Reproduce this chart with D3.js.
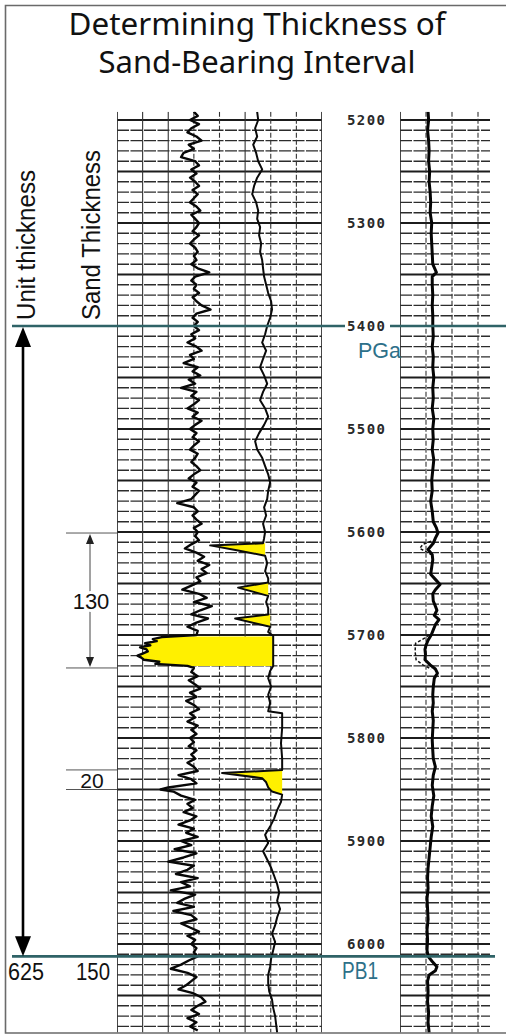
<!DOCTYPE html>
<html><head><meta charset="utf-8">
<script src="https://cdn.jsdelivr.net/npm/d3@7"></script>
<style>body{margin:0;background:#fff}svg{display:block}</style>
</head><body><svg id="c" width="506" height="1035"></svg>
<script>
// ---------- DATA ----------
const titleLines = ["Determining Thickness of", "Sand-Bearing Interval"];
const depthTicks = [5200, 5300, 5400, 5500, 5600, 5700, 5800, 5900, 6000];
const tops = [{name: "PGa", depth: 5400}, {name: "PB1", depth: 6012}];
const unitThickness = 625;
const sandTotal = 150;
const sandAnnotations = [{label: "130", top: 5601, base: 5732}, {label: "20", top: 5831, base: 5850}];

// left-track jagged curve (depth ft, value)
const grCurve = [
[5192,60],[5196,63],[5200,57],[5204,64],[5208,58],[5212,55],[5216,62],[5220,66],[5224,56],[5228,60],[5232,52],[5236,50],[5240,61],[5244,64],[5248,58],
[5252,62],[5256,57],[5260,61],[5264,64],[5268,59],[5272,63],[5276,60],[5280,57],[5284,62],[5288,65],[5292,58],[5296,61],[5300,64],
[5304,62],[5308,59],[5312,64],[5316,60],[5320,57],[5324,61],[5328,63],[5332,60],[5336,62],[5340,58],[5344,63],[5348,72],[5352,61],
[5356,58],[5360,62],[5364,60],[5368,64],[5372,59],[5376,62],[5380,66],[5384,73],[5388,62],[5392,59],[5396,63],[5400,60],
[5404,64],[5408,58],[5412,61],[5416,55],[5420,62],[5424,66],[5428,57],[5432,60],[5436,52],[5440,63],[5444,59],[5448,65],[5452,56],[5456,61],[5460,50],[5464,62],[5468,58],[5472,64],[5476,60],[5480,55],[5484,63],[5488,59],[5492,66],[5496,61],[5500,57],
[5504,62],[5508,59],[5512,64],[5516,60],[5520,57],[5524,63],[5528,61],[5532,58],[5536,62],[5540,65],[5544,60],[5548,56],[5552,62],[5556,59],[5560,64],[5564,61],[5568,58],[5572,47],[5576,60],[5580,63],[5584,59],[5588,62],[5592,66],[5596,60],[5600,63],
[5604,61],[5608,64],[5612,58],[5616,53],[5620,62],[5624,68],[5628,63],[5632,72],[5636,66],[5640,70],[5644,62],[5648,65],[5652,58],[5656,51],[5660,64],[5664,70],[5668,60],[5672,74],[5676,65],[5680,58],[5684,71],[5688,62],[5692,55],[5696,63],[5700,62],
[5702,35],[5704,28],[5706,31],[5708,22],[5710,26],[5712,18],[5714,23],[5716,24],[5718,20],[5720,16],[5722,19],[5724,21],[5726,33],[5728,30],[5730,55],[5732,60],
[5736,58],[5740,63],[5744,56],[5748,61],[5752,65],[5756,57],[5760,62],[5764,54],[5768,60],[5772,64],[5776,57],[5780,61],[5784,55],[5788,63],[5792,58],[5796,62],[5800,57],
[5804,60],[5808,56],[5812,62],[5816,58],[5820,61],[5824,55],[5828,60],[5832,63],[5836,48],[5840,58],[5844,62],[5848,40],[5850,34],[5852,44],[5856,50],[5860,61],[5864,55],[5868,59],[5872,52],[5876,62],[5880,57],[5884,48],[5888,60],[5892,54],[5896,63],[5900,50],
[5904,58],[5908,45],[5912,62],[5916,52],[5920,40],[5924,60],[5928,55],[5932,46],[5936,63],[5940,50],[5944,57],[5948,42],[5952,61],[5956,53],[5960,47],[5964,60],[5968,44],[5972,58],[5976,62],[5980,50],[5984,57],[5988,64],[5992,55],[5996,61],[6000,58],
[6004,62],[6008,60],[6012,63],[6016,56],[6020,50],[6024,42],[6028,55],[6032,62],[6036,58],[6040,54],[6044,48],[6048,60],[6052,66],[6056,69],[6060,63],[6064,58],[6068,64],[6072,55],[6076,62],[6080,57],[6084,63]
];

// left-track smoother curve (depth ft, value)
const resCurve = [
[5192,109.4],[5200,110.2],[5208,107.8],[5216,109.4],[5224,106.3],[5232,108.6],[5240,110.2],[5248,113.3],[5256,109.4],[5264,107],[5272,105.5],[5280,108.6],[5288,110.2],[5296,109.4],
[5304,111.7],[5312,110.9],[5320,112.5],[5328,111.7],[5336,113.3],[5344,114],[5352,114.8],[5360,116.4],[5368,118],[5376,120.3],[5384,121],[5392,119.5],[5400,117.2],
[5408,115.6],[5416,113.3],[5424,116.4],[5432,114],[5440,111.7],[5448,114.8],[5456,117.2],[5464,114],[5472,111.7],[5480,115.6],[5488,118],[5496,114.8],
[5504,110.9],[5512,107.8],[5520,109.4],[5528,113.3],[5536,115.6],[5544,118],[5552,119.5],[5560,118],[5568,117.2],[5576,114.8],[5584,116.4],[5592,114],[5600,115.6],
[5606,114.8],[5611,114],[5613,72.7],[5618,94.5],[5623,115.6],[5630,117.2],[5638,115.6],[5645,118],[5649,118],[5654,94.5],[5662,118],[5668,116.4],[5674,118],[5680,118],[5684,92.2],[5692,119.5],[5697,118],
[5701,121.9],[5730,121.9],[5735,119.5],[5742,118],[5750,120.3],[5758,118],[5766,119.5],[5774,118],[5776,128.9],[5790,128.9],[5805,128],[5820,128.9],[5831,128.9],
[5834,82],[5839,113.3],[5843,116.4],[5848,118],[5852,121],[5855,128.9],[5862,128],[5870,125],[5878,122.7],[5886,119.5],[5894,115.6],[5902,118],[5910,114],[5918,117.2],[5926,120.3],[5934,122.7],[5942,125],[5950,126.6],[5958,125],[5966,127.3],[5974,125],[5982,123.4],[5990,121],[5998,123.4],
[6006,121.9],[6014,120.3],[6022,119.5],[6030,118],[6038,118],[6046,118.8],[6054,121],[6062,121.9],[6070,123.4],[6078,124.2],[6086,125]
];

// right-track curve (depth ft, value)
const rightCurve = [
[5192,27],[5200,27.5],[5210,26.5],[5220,27.5],[5230,28],[5240,27.5],[5250,28.5],[5260,28],[5270,29],[5280,29.5],[5290,29],[5300,30.5],[5310,30],[5320,30.5],[5330,31],[5340,31.5],[5348,35],[5352,31],[5360,31],[5370,31.5],[5380,31],[5390,31.5],[5400,31.5],
[5410,32],[5420,31],[5430,32],[5440,31.5],[5450,32.5],[5460,31.5],[5470,32],[5480,31],[5490,32.5],[5500,31.5],[5510,32],[5520,31],[5530,32.5],[5540,31.5],[5550,30.5],[5560,31],[5570,29.5],[5580,31],[5590,32],[5596,35],[5601,36.5],[5606,34],[5611,32],[5617,27],[5622,31],[5627,31.5],[5634,30.5],[5641,29.5],[5646,34],[5651,38.5],[5656,34],[5660,31.5],[5667,32],[5672,34],[5676,35.5],[5681,33],[5685,37.5],[5690,34],[5695,32],
[5700,30],[5705,27],[5710,25],[5714,24],[5719,24.5],[5724,24],[5729,29],[5733,34],[5737,36],[5742,33],[5750,32],[5758,31.5],[5766,32],[5774,31],[5783,32],[5792,31.5],[5802,31],[5812,31.5],[5820,32],[5828,34],[5836,32],[5846,31],[5856,32.5],[5866,31],[5876,30],[5886,31.5],[5896,30],
[5906,29],[5916,28],[5926,27],[5936,26.5],[5946,27],[5956,26],[5966,26.5],[5976,27],[5986,26],[5996,26.5],[6006,26],[6012,27],[6017,31],[6022,35.5],[6026,34],[6030,28],[6036,26.5],[6046,27],[6056,26.5],[6066,27.5],[6076,27],[6086,28]
];
// dashed excursions on the right track
const rightDashed = [
  [[5609,30],[5612,22],[5616,19],[5619,25],[5622,30]],
  [[5700,28],[5704,22],[5708,15],[5716,14.5],[5724,15.5],[5729,22],[5733,30]]
];
// sand fills: between smoother curve and a shale line
const sandFills = [
  {top: 5611, base: 5624, shale: 115.6},
  {top: 5649, base: 5662, shale: 118},
  {top: 5680, base: 5692, shale: 119.5},
  {top: 5831, base: 5856, shale: 128.9}
];
// main sand: between the two curves
const mainSand = {top: 5701.5, base: 5730};

// ---------- CHART ----------
const svg = d3.select("#c");
const topD = 5192, botD = 6086;
const y = d3.scaleLinear().domain([5200, 6000]).range([120, 944]);
const x1 = d3.scaleLinear().domain([0, 160]).range([117, 322]);
const x2 = d3.scaleLinear().domain([0, 100]).range([400, 504]);
const T2R = 490;

const defs = svg.append("defs");
defs.append("clipPath").attr("id", "c1").append("rect")
  .attr("x", x1(0)).attr("y", y(topD)).attr("width", x1(160) - x1(0)).attr("height", y(botD) - y(topD));
defs.append("clipPath").attr("id", "c2").append("rect")
  .attr("x", x2(0)).attr("y", y(topD)).attr("width", T2R - x2(0)).attr("height", y(botD) - y(topD));

// frame
svg.append("path").attr("d", `M506,5.5 H5.5 V1033 H506`).attr("fill", "none").attr("stroke", "#6a6a6a").attr("stroke-width", 1.6);

// title
svg.append("g").selectAll("text").data(titleLines).join("text")
  .attr("x", 257).attr("y", (d, i) => i ? 73 : 35)
  .attr("text-anchor", "middle")
  .attr("font-family", "'Noto Sans', 'DejaVu Sans', sans-serif")
  .attr("font-size", 30).attr("fill", "#111")
  .attr("textLength", (d, i) => i ? 317 : 377).attr("lengthAdjust", "spacingAndGlyphs")
  .text(d => d);

// grids
const gridDepths = d3.range(5200, 6081, 10);
function grid(g, xs, x0, xEnd) {
  g.selectAll("line.h").data(gridDepths).join("line").attr("class", "h")
    .attr("x1", x0).attr("x2", xEnd).attr("y1", d => y(d)).attr("y2", d => y(d))
    .attr("stroke", d => d % 50 === 0 ? "#1c1c1c" : "#2c2c2c")
    .attr("stroke-width", d => d % 50 === 0 ? 2.2 : 1.4)
    .attr("stroke-dasharray", d => d % 50 === 0 ? null : "12,1.5");
  g.selectAll("line.v").data(xs).join("line").attr("class", "v")
    .attr("x1", d => d.x).attr("x2", d => d.x).attr("y1", y(topD)).attr("y2", y(botD))
    .attr("stroke", "#333").attr("stroke-width", d => d.w)
    .attr("stroke-dasharray", d => d.dash ? "5,2" : null);
}
const t1v = d3.range(0, 161, 20).map((v, i) => ({x: x1(v), w: (i === 0 || i === 8) ? 1.8 : 1.1, dash: [3, 4, 6, 7].includes(i)}));
grid(svg.append("g").attr("clip-path", "url(#c1)"), t1v, x1(0), x1(160));
const t2v = [0, 25, 50, 75].map((v, i) => ({x: x2(v), w: i === 0 ? 1.8 : 1.1, dash: i > 0}));
grid(svg.append("g").attr("clip-path", "url(#c2)"), t2v, x2(0), T2R);

// interpolation helper for fills
function interp(series, d) {
  const i = d3.bisector(p => p[0]).left(series, d);
  if (i <= 0) return series[0][1];
  if (i >= series.length) return series[series.length - 1][1];
  const a = series[i - 1], b = series[i];
  return a[1] + (b[1] - a[1]) * (d - a[0]) / (b[0] - a[0]);
}
function samples(top, base, series) {
  const ds = series.map(p => p[0]).filter(d => d > top && d < base);
  return [top, ...ds, base];
}
const fillG = svg.append("g").attr("clip-path", "url(#c1)");
sandFills.forEach(s => {
  const ds = samples(s.top, s.base, resCurve);
  const area = d3.area().y(d => y(d)).x0(d => x1(Math.min(interp(resCurve, d), s.shale))).x1(x1(s.shale));
  fillG.append("path").attr("d", area(ds)).attr("fill", "#fff000");
});
{
  const ds = Array.from(new Set([...samples(mainSand.top, mainSand.base, grCurve), ...samples(mainSand.top, mainSand.base, resCurve)])).sort((a, b) => a - b);
  const area = d3.area().y(d => y(d)).x0(d => x1(interp(grCurve, d))).x1(d => x1(interp(resCurve, d)));
  fillG.append("path").attr("d", area(ds)).attr("fill", "#fff000");
}

// curves
const line1 = d3.line().x(d => x1(d[1])).y(d => y(d[0]));
const line2 = d3.line().x(d => x2(d[1])).y(d => y(d[0]));
const c1 = svg.append("g").attr("clip-path", "url(#c1)");
c1.append("path").attr("d", line1(grCurve)).attr("fill", "none").attr("stroke", "#080808").attr("stroke-width", 2.4).attr("stroke-linejoin", "round");
c1.append("path").attr("d", line1(resCurve)).attr("fill", "none").attr("stroke", "#0a0a0a").attr("stroke-width", 2).attr("stroke-linejoin", "round");
const c2 = svg.append("g").attr("clip-path", "url(#c2)");
rightDashed.forEach(seg => c2.append("path").attr("d", line2(seg)).attr("fill", "none").attr("stroke", "#111").attr("stroke-width", 1.5).attr("stroke-dasharray", "3,2"));
c2.append("path").attr("d", line2(rightCurve)).attr("fill", "none").attr("stroke", "#050505").attr("stroke-width", 3).attr("stroke-linejoin", "round");

// depth labels
const ax = d3.axisRight(y).tickValues(depthTicks).tickSize(0).tickPadding(0).tickFormat(d3.format("d"));
const axg = svg.append("g").attr("transform", "translate(347,0)").call(ax);
axg.select(".domain").remove();
axg.selectAll("text").attr("font-family", "'DejaVu Sans Mono', monospace").attr("font-weight", "bold")
  .attr("font-size", 14).attr("letter-spacing", 1.4).attr("fill", "#2a2a2a").attr("text-anchor", "start");

// formation top lines
const teal = "#2f6367", tealText = "#2d7089";
svg.append("line").attr("x1", 12).attr("x2", 345).attr("y1", y(tops[0].depth)).attr("y2", y(tops[0].depth)).attr("stroke", teal).attr("stroke-width", 2.4);
svg.append("line").attr("x1", 390).attr("x2", 506).attr("y1", y(tops[0].depth)).attr("y2", y(tops[0].depth)).attr("stroke", teal).attr("stroke-width", 2.4);
svg.append("line").attr("x1", 12).attr("x2", 495).attr("y1", y(tops[1].depth)).attr("y2", y(tops[1].depth)).attr("stroke", teal).attr("stroke-width", 2.6);
svg.append("text").attr("x", 358).attr("y", y(tops[0].depth) + 32).attr("font-family", "'Liberation Sans', Arial, sans-serif")
  .attr("font-size", 22).attr("fill", tealText).attr("textLength", 43).attr("lengthAdjust", "spacingAndGlyphs").text(tops[0].name);
svg.append("text").attr("x", 342).attr("y", y(tops[1].depth) + 23).attr("font-family", "'Liberation Sans', Arial, sans-serif")
  .attr("font-size", 23).attr("fill", tealText).attr("textLength", 36).attr("lengthAdjust", "spacingAndGlyphs").text(tops[1].name);

// unit thickness arrow
const ax0 = 23, yT = y(tops[0].depth) + 1, yB = y(tops[1].depth);
svg.append("line").attr("x1", ax0).attr("x2", ax0).attr("y1", yT + 12).attr("y2", yB - 12).attr("stroke", "#000").attr("stroke-width", 2.6);
svg.append("path").attr("d", `M${ax0},${yT} L${ax0 - 8},${yT + 20} L${ax0 + 8},${yT + 20} Z`).attr("fill", "#000");
svg.append("path").attr("d", `M${ax0},${yB} L${ax0 - 8},${yB - 20} L${ax0 + 8},${yB - 20} Z`).attr("fill", "#000");

// rotated labels
const lab = svg.append("g").attr("font-family", "'Liberation Sans', Arial, sans-serif").attr("fill", "#111");
lab.append("text").attr("transform", "translate(35,320) rotate(-90)").attr("font-size", 26)
  .attr("textLength", 150).attr("lengthAdjust", "spacingAndGlyphs").text("Unit thickness");
lab.append("text").attr("transform", "translate(100,320) rotate(-90)").attr("font-size", 26)
  .attr("textLength", 170).attr("lengthAdjust", "spacingAndGlyphs").text("Sand Thickness");
lab.append("text").attr("x", 8).attr("y", 980).attr("font-size", 23).attr("textLength", 36).attr("lengthAdjust", "spacingAndGlyphs").text(String(unitThickness));
lab.append("text").attr("x", 76).attr("y", 980).attr("font-size", 23).attr("textLength", 34).attr("lengthAdjust", "spacingAndGlyphs").text(String(sandTotal));

// sand annotations
sandAnnotations.forEach(a => {
  const g = svg.append("g");
  const t = y(a.top), b = y(a.base);
  g.append("line").attr("x1", 66).attr("x2", x1(0)).attr("y1", t).attr("y2", t).attr("stroke", "#555").attr("stroke-width", 1);
  g.append("line").attr("x1", 66).attr("x2", x1(0)).attr("y1", b).attr("y2", b).attr("stroke", "#555").attr("stroke-width", 1);
  if (b - t > 60) {
    g.append("line").attr("x1", 90).attr("x2", 90).attr("y1", t + 6).attr("y2", b - 6).attr("stroke", "#444").attr("stroke-width", 1);
    g.append("path").attr("d", `M90,${t + 1} L86,${t + 11} L94,${t + 11} Z`).attr("fill", "#222");
    g.append("path").attr("d", `M90,${b - 1} L86,${b - 11} L94,${b - 11} Z`).attr("fill", "#222");
    g.append("text").attr("x", 91).attr("y", (t + b) / 2 + 9).attr("text-anchor", "middle")
      .attr("font-family", "'Liberation Sans', Arial, sans-serif").attr("font-size", 22).attr("fill", "#111")
      .attr("paint-order", "stroke").attr("stroke", "#fff").attr("stroke-width", 6).text(a.label);
  } else {
    g.append("text").attr("x", 92).attr("y", b - 2).attr("text-anchor", "middle")
      .attr("font-family", "'Liberation Sans', Arial, sans-serif").attr("font-size", 21).attr("fill", "#111").text(a.label);
  }
});
</script></body></html>
